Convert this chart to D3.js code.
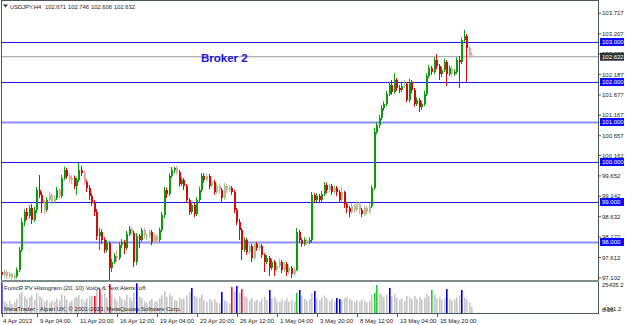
<!DOCTYPE html>
<html lang="en">
<head>
<meta charset="UTF-8">
<title>USDJPY,H4</title>
<style>
  body { margin: 0; background: #fff; }
  svg { display: block; }
  text { font-family: "Liberation Sans", Arial, sans-serif; }
</style>
</head>
<body>
<svg width="625" height="325"></svg>
<script src="https://cdn.jsdelivr.net/npm/d3@7"></script>
<script>
// H4 bars, open of each bar = close of the one before
var firstOpen = 97.25
var closes = [
  97.175, 97.25, 97.15, 97.20, 97.10, 97.15, 97.30, 97.80, 98.50, 98.75,
  98.65, 98.85, 98.55, 98.80, 99.30, 99.175, 98.975, 98.80, 99.05, 99.175,
  99.00, 99.10, 99.30, 99.15, 99.60, 99.80, 99.65, 99.55, 99.60, 99.40,
  99.55, 99.80, 99.725, 99.50, 99.35, 99.15, 98.975, 98.75, 98.15, 98.25,
  98.05, 97.80, 97.975, 97.35, 97.50, 97.65, 97.60, 97.925, 98.00, 97.85,
  98.20, 98.325, 98.225, 97.50, 98.15, 98.05, 98.30, 98.15, 98.15, 98.25,
  98.00, 98.15, 98.05, 98.30, 98.675, 99.30, 99.20, 99.65, 99.80, 99.85,
  99.75, 99.45, 99.55, 99.40, 99.05, 98.75, 98.925, 98.70, 99.05, 99.30,
  99.65, 99.55, 99.65, 99.40, 99.50, 99.25, 99.40, 99.30, 99.10, 99.40,
  99.30, 99.35, 99.25, 98.80, 98.50, 98.30, 97.80, 98.05, 97.75, 97.90,
  97.60, 97.95, 97.85, 97.90, 97.675, 97.50, 97.60, 97.35, 97.50, 97.30,
  97.40, 97.50, 97.30, 97.45, 97.25, 97.35, 97.20, 97.30, 98.25, 98.05,
  97.95, 98.05, 98.00, 98.05, 99.175, 99.05, 99.15, 99.05, 99.20, 99.425,
  99.30, 99.40, 99.25, 99.35, 99.25, 99.05, 99.25, 98.95, 98.85, 98.75,
  98.90, 98.80, 98.95, 98.80, 98.70, 98.85, 98.75, 98.90, 99.35, 100.75,
  100.925, 101.10, 101.35, 101.45, 101.70, 101.925, 101.75, 102.05, 101.85, 101.80,
  101.90, 101.95, 101.55, 102.00, 101.80, 101.45, 101.55, 101.375, 101.45, 101.70,
  102.15, 102.35, 102.25, 102.55, 102.40, 102.20, 102.30, 102.50, 102.20, 102.35,
  102.20, 102.25, 102.55, 102.50, 103.05, 103.15, 102.85, 102.671, 102.632
]
var highs = [
  97.30, 97.32, 97.30, 97.26, 97.24, 97.22, 97.36, 97.88, 98.60, 98.82,
  98.85, 98.92, 98.95, 98.88, 99.38, 99.675, 99.25, 99.05, 99.12, 99.25,
  99.22, 99.18, 99.38, 99.35, 99.68, 99.88, 99.85, 99.72, 99.68, 99.66,
  99.62, 99.975, 99.90, 99.78, 99.56, 99.42, 99.22, 99.05, 98.82, 98.35,
  98.32, 98.12, 98.05, 98.02, 97.58, 97.72, 97.80, 98.00, 98.08, 98.05,
  98.28, 98.40, 98.38, 98.28, 98.22, 98.20, 98.36, 98.35, 98.22, 98.32,
  98.30, 98.22, 98.20, 98.36, 98.75, 99.38, 99.36, 99.72, 99.875, 99.875,
  99.90, 99.80, 99.62, 99.60, 99.45, 99.10, 99.00, 98.98, 99.12, 99.38,
  99.72, 99.72, 99.72, 99.70, 99.58, 99.55, 99.48, 99.46, 99.35, 99.48,
  99.45, 99.42, 99.40, 99.30, 98.85, 98.58, 98.35, 98.12, 98.10, 97.98,
  97.95, 98.02, 98.00, 97.98, 97.95, 97.72, 97.68, 97.65, 97.58, 97.55,
  97.48, 97.58, 97.55, 97.52, 97.50, 97.42, 97.40, 97.38, 98.35, 98.30,
  98.10, 98.12, 98.10, 98.12, 99.25, 99.22, 99.22, 99.20, 99.28, 99.50,
  99.48, 99.46, 99.45, 99.42, 99.40, 99.30, 99.38, 99.28, 99.00, 98.90,
  98.98, 98.95, 99.02, 99.00, 98.85, 98.92, 98.90, 98.98, 99.42, 100.85,
  101.00, 101.18, 101.42, 101.52, 101.78, 102.00, 102.05, 102.22, 102.10, 101.92,
  101.98, 102.05, 102.00, 102.08, 102.05, 101.85, 101.62, 101.60, 101.52, 101.78,
  102.22, 102.42, 102.40, 102.62, 102.70, 102.45, 102.38, 102.58, 102.55, 102.42,
  102.40, 102.32, 102.62, 102.65, 103.12, 103.30, 103.20, 102.90, 102.746
]
var lows = [
  97.10, 97.12, 97.08, 97.10, 97.05, 97.05, 97.10, 97.25, 97.75, 98.40,
  98.55, 98.58, 98.45, 98.50, 98.72, 99.10, 98.725, 98.70, 98.75, 98.98,
  98.92, 98.95, 99.05, 99.08, 99.10, 99.55, 99.58, 99.48, 99.45, 99.32,
  99.175, 99.50, 99.65, 99.42, 99.25, 99.05, 98.90, 98.65, 98.05, 97.80,
  97.95, 97.72, 97.74, 97.05, 97.25, 97.45, 97.50, 97.55, 97.85, 97.70,
  97.80, 98.15, 98.15, 97.375, 97.42, 97.85, 98.00, 98.08, 98.05, 98.10,
  97.92, 97.95, 97.98, 98.00, 98.25, 98.60, 99.10, 99.15, 99.60, 99.72,
  99.68, 99.38, 99.40, 99.30, 98.98, 98.675, 98.70, 98.62, 98.65, 99.00,
  99.25, 99.48, 99.50, 99.32, 99.35, 99.18, 99.20, 99.22, 99.00, 99.05,
  99.22, 99.25, 99.18, 98.72, 98.42, 98.05, 97.55, 97.75, 97.68, 97.70,
  97.50, 97.55, 97.78, 97.80, 97.60, 97.25, 97.45, 97.15, 97.30, 97.15,
  97.25, 97.35, 97.22, 97.25, 97.15, 97.20, 97.10, 97.15, 97.275, 97.98,
  97.88, 97.90, 97.92, 97.95, 97.975, 98.98, 99.00, 98.98, 99.00, 99.15,
  99.22, 99.25, 99.18, 99.20, 99.15, 98.98, 99.00, 98.85, 98.72, 98.62,
  98.70, 98.72, 98.75, 98.70, 98.62, 98.65, 98.68, 98.70, 98.85, 99.30,
  100.70, 100.85, 101.05, 101.28, 101.40, 101.65, 101.68, 101.70, 101.78, 101.72,
  101.75, 101.85, 101.50, 101.50, 101.72, 101.38, 101.40, 101.25, 101.30, 101.40,
  101.65, 102.10, 102.18, 102.20, 102.32, 102.05, 102.12, 102.25, 101.90, 102.15,
  102.12, 102.15, 102.20, 101.85, 102.45, 103.00, 102.00, 102.60, 102.606
]
var volumes = [
  25400, 9800, 8200, 10500, 7600, 9000, 11800, 16500, 18200, 14100,
  12000, 13500, 15200, 11000, 16800, 14200, 12600, 9400, 11200, 8800,
  10200, 9600, 12400, 10800, 15800, 14600, 11400, 9200, 10600, 12800,
  13600, 15000, 11800, 9800, 12200, 13800, 14800, 14500, 19500, 20300,
  16000, 17200, 13000, 24600, 15600, 12800, 10400, 14200, 12000, 11400,
  15400, 13200, 10800, 17800, 25200, 13600, 12400, 9800, 8600, 10400,
  11800, 9200, 10000, 12600, 15200, 18400, 13800, 16000, 14200, 11200,
  10400, 13000, 11600, 12400, 15000, 17600, 21200, 14600, 13400, 12800,
  15800, 11000, 9600, 12000, 10200, 11600, 9000, 8400, 17800, 10800,
  9400, 8200, 22000, 18600, 22900, 17000, 20300, 14400, 13200, 10600,
  12600, 9800, 11200, 10000, 12400, 14000, 11000, 19500, 12600, 13800,
  10600, 9400, 11800, 10200, 12600, 9800, 11000, 9600, 17000, 19500,
  14200, 12000, 10400, 11600, 16800, 18600, 12600, 11000, 13400, 14800,
  12200, 10200, 11600, 9600, 12700, 11900, 10800, 12400, 13600, 12000,
  10600, 9400, 10800, 9800, 11400, 10200, 9000, 10600, 15400, 17000,
  23700, 16800, 15200, 13400, 15800, 21200, 14000, 16200, 12800, 11200,
  12400, 10600, 14400, 13200, 11800, 14600, 12000, 13800, 11400, 12800,
  16000, 14200, 19500, 15600, 12400, 13800, 11200, 12600, 20300, 12000,
  10800, 11600, 13400, 15000, 19500, 13200, 11800, 9000, 5200
]
var blueBars = [0, 54, 76, 88, 94, 107, 119, 125, 134, 135, 155, 178, 184]
var redBars = [37, 39, 43, 92, 96]
var greenBars = [118, 149, 150, 172]

var levels = [103, 102, 101, 100, 99, 98]
var priceTicks = [103.717, 103.207, 102.697, 102.187, 101.677, 101.167, 100.657,
                  100.162, 99.652, 99.142, 98.632, 98.122, 97.612, 97.102]
var timeTicks = [0, 14, 30, 46, 62, 78, 94, 110, 126, 142, 158, 174]
var timeLabels = ['4 Apr 2013', '9 Apr 04:00', '11 Apr 20:00', '16 Apr 12:00', '19 Apr 04:00',
                  '23 Apr 20:00', '26 Apr 12:00', '1 May 04:00', '3 May 20:00', '8 May 12:00',
                  '13 May 04:00', '15 May 20:00']
var volMax = 25435.2

var opens = closes.map(function(c, i) { return i == 0 ? firstOpen : closes[i - 1] })
var n = closes.length
var last = n - 1

var svg = d3.select('svg')
var x = d3.scaleLinear().domain([0, n - 1]).range([2, 472])
var y = d3.scaleLinear().domain([98, 103]).range([242, 42])
var v = d3.scaleLinear().domain([0, volMax]).range([313, 283])
var frame = '#4c5858'
var fmt = d3.format('.3f')

svg.append('rect').attr('width', 625).attr('height', 325).attr('fill', '#fff')

svg.append('clipPath').attr('id', 'main')
  .append('rect').attr('x', 2).attr('y', 1).attr('width', 596).attr('height', 279)
var main = svg.append('g').attr('clip-path', 'url(#main)')

// round levels
main.selectAll('.level').data(levels).enter().append('line')
  .attr('x1', 2).attr('x2', 598)
  .attr('y1', function(d) { return Math.round(y(d)) + 0.5 })
  .attr('y2', function(d) { return Math.round(y(d)) + 0.5 })
  .attr('stroke', function(d) { return (d == 101 || d == 98) ? '#8c8cff' : '#1c1cf0' })
  .attr('stroke-width', function(d) { return (d == 101 || d == 98) ? 2 : 1.2 })

// bid line
main.append('line')
  .attr('x1', 2).attr('x2', 598)
  .attr('y1', y(closes[last])).attr('y2', y(closes[last]))
  .attr('stroke', '#b0b0b0').attr('stroke-width', 1.2)

function candleColor(i) {
  var up = closes[i] >= opens[i]
  var weak = volumes[i] < 11000
  if (up) return weak ? '#8fd08f' : '#0e9a0e'
  return weak ? '#e8a4a4' : '#d20a0a'
}

var bars = main.selectAll('.bar').data(d3.range(n)).enter().append('g')
bars.append('line')
  .attr('x1', function(i) { return Math.round(x(i)) - 0.5 })
  .attr('x2', function(i) { return Math.round(x(i)) - 0.5 })
  .attr('y1', function(i) { return y(highs[i]) })
  .attr('y2', function(i) { return y(lows[i]) })
  .attr('stroke', candleColor).attr('stroke-width', 1)
bars.append('rect')
  .attr('x', function(i) { return Math.round(x(i)) - 1 })
  .attr('width', 2)
  .attr('y', function(i) { return y(Math.max(opens[i], closes[i])) })
  .attr('height', function(i) { return Math.max(1, Math.abs(y(opens[i]) - y(closes[i]))) })
  .attr('fill', candleColor)

svg.append('text')
  .attr('x', 201).attr('y', 62)
  .attr('font-size', 11.5).attr('font-weight', 'bold')
  .attr('fill', '#1818d8')
  .text('Broker 2')

// header
svg.append('path').attr('d', 'M3,4.5 L8,4.5 L5.5,7.5 Z').attr('fill', '#333')
svg.append('text').attr('x', 10).attr('y', 8.5).attr('font-size', 5.8).attr('fill', '#222')
  .text('USDJPY,H4')
svg.selectAll('.ohlc').data([opens[last], highs[last], lows[last], closes[last]]).enter().append('text')
  .attr('x', function(d, k) { return 45 + k * 23 }).attr('y', 8.5)
  .attr('font-size', 5.8).attr('fill', '#222')
  .text(function(d) { return fmt(d) })

// volume histogram
function volColor(i) {
  if (blueBars.indexOf(i) >= 0) return '#0000e6'
  if (redBars.indexOf(i) >= 0) return '#ee1030'
  if (greenBars.indexOf(i) >= 0) return '#22cc33'
  return '#c6c6c6'
}
svg.selectAll('.vol').data(d3.range(n)).enter().append('rect')
  .attr('x', function(i) { return Math.round(x(i)) - 1 })
  .attr('width', 1.6)
  .attr('y', function(i) { return v(volumes[i]) })
  .attr('height', function(i) { return v(0) - v(volumes[i]) })
  .attr('fill', volColor)

svg.append('text').attr('x', 4).attr('y', 289.5).attr('font-size', 6).attr('fill', '#222')
  .text('FonicR PV Histogram (20, 10)   Voice & Text Alerts: off.')
svg.append('text').attr('x', 4).attr('y', 310.5).attr('font-size', 6).attr('fill', '#222')
  .text('MetaTrader - Alpari UK, \u00a9 2001-2013, MetaQuotes Software Corp.')

// frame
svg.append('line').attr('x1', 1.5).attr('x2', 1.5).attr('y1', 0).attr('y2', 314).attr('stroke', frame)
svg.append('line').attr('x1', 598.5).attr('x2', 598.5).attr('y1', 0).attr('y2', 314).attr('stroke', frame)
svg.append('line').attr('x1', 1).attr('x2', 599).attr('y1', 0.5).attr('y2', 0.5).attr('stroke', frame)
svg.append('line').attr('x1', 1).attr('x2', 599).attr('y1', 281).attr('y2', 281).attr('stroke', '#7f8c8c').attr('stroke-width', 2)
svg.append('line').attr('x1', 1).attr('x2', 599).attr('y1', 313.5).attr('y2', 313.5).attr('stroke', frame)

// price scale
var ticks = svg.selectAll('.pt').data(priceTicks).enter().append('g')
  .attr('transform', function(d) { return 'translate(0,' + y(d) + ')' })
ticks.append('line').attr('x1', 598).attr('x2', 601).attr('stroke', frame)
ticks.append('text').attr('x', 602).attr('y', 2).attr('font-size', 6).attr('fill', '#222')
  .text(function(d) { return fmt(d) })

var tags = svg.selectAll('.tag').data(levels).enter().append('g')
  .attr('transform', function(d) { return 'translate(0,' + y(d) + ')' })
tags.append('rect').attr('x', 600).attr('y', -4).attr('width', 24).attr('height', 8).attr('fill', '#0a0aff')
tags.append('text').attr('x', 602).attr('y', 2).attr('font-size', 6).attr('fill', '#fff')
  .text(function(d) { return fmt(d) })

var bid = svg.append('g').attr('transform', 'translate(0,' + y(closes[last]) + ')')
bid.append('rect').attr('x', 600).attr('y', -4).attr('width', 24).attr('height', 8).attr('fill', '#2e3434')
bid.append('text').attr('x', 602).attr('y', 2).attr('font-size', 6).attr('fill', '#fff')
  .text(fmt(closes[last]))

// volume scale
svg.append('text').attr('x', 602).attr('y', 287).attr('font-size', 6).attr('fill', '#222').text(fmt(volMax).slice(0, -2))
svg.append('text').attr('x', 602).attr('y', 312).attr('font-size', 6).attr('fill', '#222').text('0.00')
svg.append('text').attr('x', 603).attr('y', 311).attr('font-size', 6).attr('fill', '#222').text('4341.2')

// time scale
var tt = svg.selectAll('.tt').data(timeTicks).enter().append('g')
  .attr('transform', function(d) { return 'translate(' + Math.round(x(d)) + ',0)' })
tt.append('line').attr('x1', 0.5).attr('x2', 0.5).attr('y1', 313).attr('y2', 317)
  .attr('stroke', frame)
tt.append('text').attr('x', function(d, k) { return k == 0 ? 1 : 3 }).attr('y', 323)
  .attr('font-size', 6).attr('fill', '#222')
  .text(function(d, k) { return timeLabels[k] })
</script>
</body>
</html>
